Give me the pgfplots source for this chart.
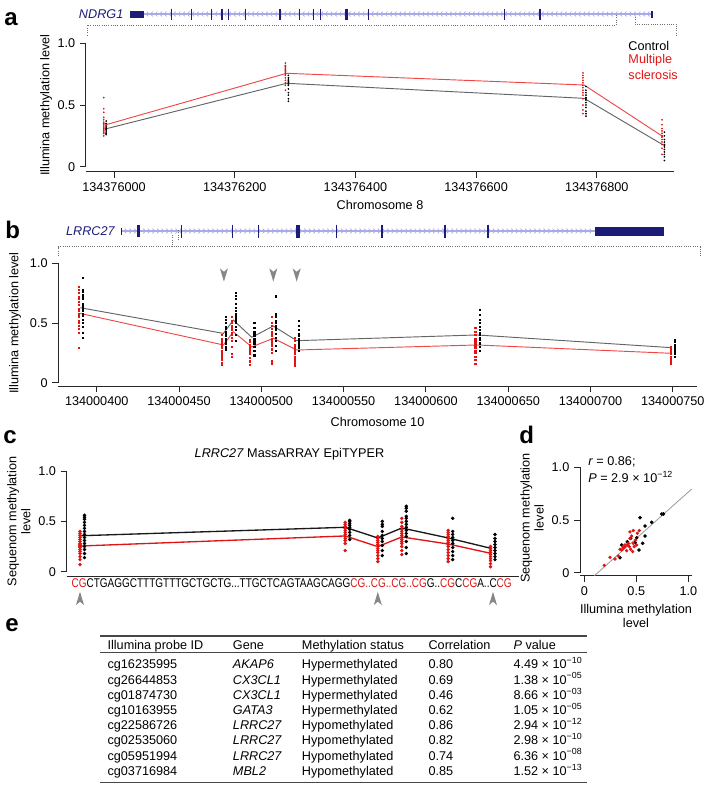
\documentclass[border=0pt]{standalone}
\usepackage{fontspec}
\setmainfont{Liberation Sans}
\usepackage{graphicx}
\usepackage{pgfplots}
\pgfplotsset{compat=1.18}
\definecolor{navy}{RGB}{28,28,120}
\definecolor{lav}{RGB}{170,170,228}
\definecolor{dotgray}{RGB}{110,110,110}
\definecolor{msred}{RGB}{225,20,20}
\definecolor{lred}{RGB}{240,70,70}
\definecolor{lgray}{RGB}{100,100,100}
\definecolor{argray}{RGB}{135,135,135}
\definecolor{rulegray}{RGB}{70,70,70}
\newcommand\fs{\fontsize{9.5}{10.5}\selectfont}
\newcommand\pl{\fontsize{18}{20}\selectfont\bfseries}
\newcommand\trow[6]{%
  \node[anchor=base west,font=\fs,inner sep=0pt] at (107.3,#1) {#2};
  \node[anchor=base west,font=\fs\itshape,inner sep=0pt] at (232.7,#1) {#3};
  \node[anchor=base west,font=\fs,inner sep=0pt] at (301.7,#1) {#4};
  \node[anchor=base west,font=\fs,inner sep=0pt] at (428.3,#1) {#5};
  \node[anchor=base west,font=\fs,inner sep=0pt] at (513.3,#1) {#6};}
\tikzset{dots/.style={dotgray,line width=0.6pt,dash pattern=on 0.6pt off 1.1pt}}
\pgfplotsset{
  rstyle/.style={
    scale only axis, clip=false, anchor=south west,
    axis lines=left, axis line style={-, line width=0.75pt, black!85},
    y axis line style={draw=none},
    tick align=outside, major tick length=4.5pt,
    tick style={black!85, line width=0.7pt},
    tick label style={font=\fs},
    ytick={0,0.5,1}, yticklabels={0,0.5,1.0},
  }
}
\begin{document}
\begin{tikzpicture}
\begin{scope}[x=0.75pt,y=-0.75pt]
\useasboundingbox (0,0) rectangle (714,789);
% panel labels
\node[anchor=base west,font=\pl,inner sep=0pt] at (4,25) {a};
\node[anchor=base west,font=\pl,inner sep=0pt] at (5,238) {b};
\node[anchor=base west,font=\pl,inner sep=0pt] at (3,443) {c};
\node[anchor=base west,font=\pl,inner sep=0pt] at (519,443) {d};
\node[anchor=base west,font=\pl,inner sep=0pt] at (5,631) {e};
% gene track a (NDRG1)
\node[anchor=east,font=\fs\itshape,text=navy,inner sep=0pt] at (123.6,14) {NDRG1};
\draw[lav,line width=0.9pt] (144,14)--(652,14);
\foreach \x in {147,151.6,...,649}{\draw[lav,line width=0.5pt] (\x+1.2,11.6)--(\x-1.2,14)--(\x+1.2,16.4);}
\fill[navy] (129.5,10.5) rectangle (144,17.5);
\foreach \x in {171.6,191.3,211.4,222,228.8,245.8,280,299.8,313.5,320.4,368.4,504.8,540}{\draw[navy,line width=1pt] (\x,8.5)--(\x,19.5);}
\draw[navy,line width=1.6pt] (346.5,8.5)--(346.5,19.5);
\draw[navy,line width=1pt] (652,10.5)--(652,17.5);
\draw[dots] (616,15)--(616,25)--(87,25)--(87,35);
\draw[dots] (635,17)--(635,24)--(676,24)--(676,35);
% gene track b (LRRC27)
\node[anchor=east,font=\fs\itshape,text=navy,inner sep=0pt] at (115,231) {LRRC27};
\draw[lav,line width=0.9pt] (121.7,231)--(595,231);
\foreach \x in {126,130.6,...,592}{\draw[lav,line width=0.5pt] (\x-1.2,228.6)--(\x+1.2,231)--(\x-1.2,233.4);}
\draw[navy,line width=1pt] (121.7,227.5)--(121.7,234.5);
\fill[navy] (136.5,225) rectangle (139.5,237);
\fill[navy] (296,224.5) rectangle (300,237.5);
\foreach \x in {181.7,232.3,258.3,336.7,382,445,488}{\draw[navy,line width=1pt] (\x,224.5)--(\x,237.5);}
\fill[navy] (595,226.5) rectangle (664,235.5);
\draw[dots] (58.3,256)--(58.3,246.7)--(700,246.7)--(700,257);
\draw[dots] (172.5,235)--(172.5,246.7);
\draw[dots] (178.5,230)--(178.5,240);
% table e
\draw[rulegray,line width=0.9pt] (100,636)--(587,636);
\draw[rulegray,line width=0.8pt] (100,652.7)--(587,652.7);
\draw[rulegray,line width=0.9pt] (100,782.7)--(587,782.7);
\node[anchor=base west,font=\fs,inner sep=0pt] at (107.3,649.3) {Illumina probe ID};
\node[anchor=base west,font=\fs,inner sep=0pt] at (232.7,649.3) {Gene};
\node[anchor=base west,font=\fs,inner sep=0pt] at (301.7,649.3) {Methylation status};
\node[anchor=base west,font=\fs,inner sep=0pt] at (428.3,649.3) {Correlation};
\node[anchor=base west,font=\fs,inner sep=0pt] at (513.3,649.3) {\textit{P} value};
\trow{668.8}{cg16235995}{AKAP6}{Hypermethylated}{0.80}{4.49 × 10\textsuperscript{−10}}
\trow{684.0}{cg26644853}{CX3CL1}{Hypermethylated}{0.69}{1.38 × 10\textsuperscript{−05}}
\trow{699.2}{cg01874730}{CX3CL1}{Hypermethylated}{0.46}{8.66 × 10\textsuperscript{−03}}
\trow{714.4}{cg10163955}{GATA3}{Hypermethylated}{0.62}{1.05 × 10\textsuperscript{−05}}
\trow{729.6}{cg22586726}{LRRC27}{Hypomethylated}{0.86}{2.94 × 10\textsuperscript{−12}}
\trow{744.8}{cg02535060}{LRRC27}{Hypomethylated}{0.82}{2.98 × 10\textsuperscript{−10}}
\trow{760.0}{cg05951994}{LRRC27}{Hypomethylated}{0.74}{6.36 × 10\textsuperscript{−08}}
\trow{775.2}{cg03716984}{MBL2}{Hypomethylated}{0.85}{1.52 × 10\textsuperscript{−13}}
\end{scope}

% ---------------- panel a ----------------
\begin{axis}[rstyle, at={(64.5pt,-128.775pt)}, width=441pt, height=96.3pt,
  xmin=-46.4, xmax=927.9, ymin=-0.0405, ymax=1,
  xtick={0,200,400,600,800},
  xticklabels={134376000,134376200,134376400,134376600,134376800}]
\draw[line width=0.75pt, black!85] (axis cs:-46.4,0) -- (axis cs:-46.4,1);
\addplot[only marks, mark=*, mark size=0.42pt, msred] coordinates {
(-17,0.25)(-17,0.27)(-17,0.28)(-17,0.29)(-17,0.30)(-17,0.31)(-17,0.32)(-17,0.33)(-17,0.34)(-17,0.35)(-17,0.36)(-17,0.38)(-17,0.40)(-17,0.44)(-17,0.47)(-17,0.56)
(284,0.62)(284,0.66)(284,0.68)(284,0.70)(284,0.72)(284,0.74)(284,0.75)(284,0.76)(284,0.77)(284,0.78)(284,0.79)(284,0.80)(284,0.81)(284,0.82)(284,0.84)
(777,0.43)(777,0.46)(777,0.50)(777,0.55)(777,0.58)(777,0.60)(777,0.62)(777,0.64)(777,0.66)(777,0.68)(777,0.70)(777,0.72)(777,0.74)(777,0.76)
(908,0.10)(908,0.15)(908,0.18)(908,0.20)(908,0.22)(908,0.24)(908,0.25)(908,0.27)(908,0.29)(908,0.31)(908,0.34)(908,0.38)};
\addplot[only marks, mark=*, mark size=0.42pt, black] coordinates {
(-13,0.26)(-13,0.27)(-13,0.28)(-13,0.29)(-13,0.30)(-13,0.31)(-13,0.32)(-13,0.33)(-13,0.35)(-13,0.37)
(289,0.53)(289,0.55)(289,0.58)(289,0.60)(289,0.63)(289,0.66)(289,0.67)(289,0.68)(289,0.69)(289,0.70)(289,0.71)(289,0.72)(289,0.74)
(782,0.41)(782,0.43)(782,0.45)(782,0.48)(782,0.50)(782,0.52)(782,0.54)(782,0.55)(782,0.56)(782,0.58)(782,0.60)(782,0.62)(782,0.65)
(912,0.05)(912,0.08)(912,0.10)(912,0.12)(912,0.14)(912,0.16)(912,0.17)(912,0.18)(912,0.20)(912,0.22)(912,0.25)(912,0.28)};
\addplot[lgray, line width=0.7pt, mark=none] coordinates {(-15,0.305)(286,0.676)(779,0.554)(910,0.176)};
\addplot[lred, line width=0.7pt, mark=none] coordinates {(-15,0.338)(286,0.757)(779,0.662)(910,0.243)};
\node[anchor=west,font=\fs,inner sep=0pt] at (axis cs:852,0.98) {Control};
\node[anchor=west,font=\fs,inner sep=0pt,text=msred] at (axis cs:852,0.859) {Multiple};
\node[anchor=west,font=\fs,inner sep=0pt,text=msred] at (axis cs:852,0.743) {sclerosis};
\node[font=\fs] at (axis cs:440.8,-0.31) {Chromosome 8};
\node[font=\fs,rotate=90] at (axis cs:-112.7,0.5) {Illumina methylation level};
\end{axis}

% ---------------- panel b ----------------
\begin{axis}[rstyle, at={(43.725pt,-289.5pt)}, width=478.8pt, height=92.025pt,
  xmin=-23.33, xmax=364.52, ymin=-0.0276, ymax=1,
  xtick={0,50,100,150,200,250,300,350},
  xticklabels={134000400,134000450,134000500,134000550,134000600,134000650,134000700,134000750}]
\draw[line width=0.75pt, black!85] (axis cs:-23.33,0) -- (axis cs:-23.33,1);
\addplot[only marks, mark=square*, mark size=0.42pt, msred] coordinates {
(-11,0.29)(-11,0.42)(-11,0.45)(-11,0.48)(-11,0.50)(-11,0.52)(-11,0.55)(-11,0.57)(-11,0.58)(-11,0.60)(-11,0.62)(-11,0.65)(-11,0.68)(-11,0.70)(-11,0.72)(-11,0.75)(-11,0.78)(-11,0.80)
(76,0.15)(76,0.17)(76,0.19)(76,0.21)(76,0.23)(76,0.25)(76,0.27)(76,0.29)(76,0.31)(76,0.33)(76,0.35)(76,0.37)(76,0.40)
(82,0.22)(82,0.24)(82,0.30)(82,0.35)(82,0.38)(82,0.40)(82,0.42)(82,0.44)(82,0.46)(82,0.48)(82,0.50)(82,0.52)(82,0.55)
(93.2,0.15)(93.2,0.18)(93.2,0.21)(93.2,0.24)(93.2,0.26)(93.2,0.28)(93.2,0.30)(93.2,0.32)(93.2,0.34)(93.2,0.36)
(106.3,0.16)(106.3,0.18)(106.3,0.25)(106.3,0.28)(106.3,0.31)(106.3,0.33)(106.3,0.35)(106.3,0.37)(106.3,0.39)(106.3,0.41)(106.3,0.43)(106.3,0.45)(106.3,0.48)(106.3,0.50)(106.3,0.55)
(120.5,0.14)(120.5,0.16)(120.5,0.18)(120.5,0.20)(120.5,0.22)(120.5,0.24)(120.5,0.26)(120.5,0.28)(120.5,0.30)(120.5,0.32)(120.5,0.35)(120.5,0.38)
(230,0.16)(230,0.19)(230,0.22)(230,0.25)(230,0.27)(230,0.29)(230,0.31)(230,0.33)(230,0.35)(230,0.37)(230,0.40)(230,0.43)(230,0.46)
(348.6,0.16)(348.6,0.18)(348.6,0.20)(348.6,0.22)(348.6,0.24)(348.6,0.26)(348.6,0.28)(348.6,0.30)};
\addplot[only marks, mark=square*, mark size=0.42pt, black] coordinates {
(-8.5,0.38)(-8.5,0.42)(-8.5,0.47)(-8.5,0.50)(-8.5,0.53)(-8.5,0.56)(-8.5,0.58)(-8.5,0.60)(-8.5,0.62)(-8.5,0.64)(-8.5,0.66)(-8.5,0.70)(-8.5,0.72)(-8.5,0.74)(-8.5,0.76)(-8.5,0.78)(-8.5,0.88)
(78.5,0.28)(78.5,0.30)(78.5,0.33)(78.5,0.35)(78.5,0.37)(78.5,0.39)(78.5,0.41)(78.5,0.43)(78.5,0.45)(78.5,0.47)(78.5,0.50)(78.5,0.53)(78.5,0.55)
(84.5,0.35)(84.5,0.40)(84.5,0.44)(84.5,0.47)(84.5,0.50)(84.5,0.52)(84.5,0.54)(84.5,0.56)(84.5,0.58)(84.5,0.60)(84.5,0.63)(84.5,0.66)(84.5,0.70)(84.5,0.73)(84.5,0.75)
(95.7,0.23)(95.7,0.27)(95.7,0.30)(95.7,0.33)(95.7,0.35)(95.7,0.37)(95.7,0.39)(95.7,0.41)(95.7,0.43)(95.7,0.46)(95.7,0.50)
(108.8,0.27)(108.8,0.31)(108.8,0.35)(108.8,0.38)(108.8,0.41)(108.8,0.44)(108.8,0.46)(108.8,0.48)(108.8,0.50)(108.8,0.52)(108.8,0.55)(108.8,0.57)(108.8,0.58)(108.8,0.72)(108.8,0.73)
(123,0.27)(123,0.29)(123,0.31)(123,0.33)(123,0.35)(123,0.37)(123,0.39)(123,0.41)(123,0.44)(123,0.48)(123,0.52)
(232.5,0.27)(232.5,0.30)(232.5,0.33)(232.5,0.36)(232.5,0.38)(232.5,0.40)(232.5,0.42)(232.5,0.44)(232.5,0.47)(232.5,0.50)(232.5,0.53)(232.5,0.57)(232.5,0.61)
(351.1,0.22)(351.1,0.24)(351.1,0.26)(351.1,0.28)(351.1,0.30)(351.1,0.32)(351.1,0.34)(351.1,0.36)};
\addplot[lgray, line width=0.7pt, mark=none] coordinates {(-10,0.628)(77,0.413)(83,0.525)(94.2,0.38)(107.3,0.475)(121.5,0.352)(231,0.40)(349.6,0.293)};
\addplot[lred, line width=0.7pt, mark=none] coordinates {(-10,0.58)(77,0.316)(83,0.427)(94.2,0.30)(107.3,0.372)(121.5,0.274)(231,0.316)(349.6,0.246)};
\pgfplotsinvokeforeach{77.3,107.3,121.5}{
  \fill[argray] (axis cs:#1,0.846) -- ++(-3pt,10pt) -- ++(3pt,-2.6pt) -- ++(3pt,2.6pt) -- cycle;}
\node[font=\fs] at (axis cs:170.6,-0.329) {Chromosome 10};
\node[font=\fs,rotate=90] at (axis cs:-49.6,0.5) {Illumina methylation level};
\end{axis}

% ---------------- panel c ----------------
\begin{axis}[rstyle, at={(50.025pt,-432.525pt)}, width=339.45pt, height=79.275pt,
  xmin=66.7, xmax=519.3, ymin=-0.0497, ymax=1, xtick=\empty]
\draw[line width=0.75pt, black!85] (axis cs:66.7,0) -- (axis cs:66.7,1);
\addplot[only marks, mark=*, mark size=1.1pt, black] coordinates {
(84.5,0.14)(84.5,0.18)(84.5,0.22)(84.5,0.25)(84.5,0.28)(84.5,0.31)(84.5,0.34)(84.5,0.37)(84.5,0.40)(84.5,0.43)(84.5,0.46)(84.5,0.49)(84.5,0.52)(84.5,0.54)(84.5,0.56)
(349.7,0.32)(349.7,0.36)(349.7,0.39)(349.7,0.42)(349.7,0.44)(349.7,0.46)(349.7,0.48)(349.7,0.50)(349.7,0.51)
(382.3,0.16)(382.3,0.21)(382.3,0.26)(382.3,0.30)(382.3,0.33)(382.3,0.36)(382.3,0.40)(382.3,0.45)(382.3,0.47)(382.3,0.50)
(406.3,0.18)(406.3,0.24)(406.3,0.30)(406.3,0.35)(406.3,0.38)(406.3,0.41)(406.3,0.44)(406.3,0.47)(406.3,0.50)(406.3,0.53)(406.3,0.55)(406.3,0.60)(406.3,0.63)(406.3,0.65)
(452.7,0.12)(452.7,0.16)(452.7,0.20)(452.7,0.24)(452.7,0.28)(452.7,0.31)(452.7,0.34)(452.7,0.37)(452.7,0.40)(452.7,0.53)
(495,0.12)(495,0.15)(495,0.18)(495,0.21)(495,0.24)(495,0.27)(495,0.30)(495,0.33)(495,0.37)};
\addplot[only marks, mark=*, mark size=1.1pt, msred] coordinates {
(80,0.07)(80,0.12)(80,0.15)(80,0.18)(80,0.20)(80,0.22)(80,0.24)(80,0.25)(80,0.26)(80,0.27)(80,0.28)(80,0.30)(80,0.32)(80,0.34)(80,0.36)(80,0.38)(80,0.40)
(345.2,0.21)(345.2,0.28)(345.2,0.31)(345.2,0.33)(345.2,0.35)(345.2,0.37)(345.2,0.39)(345.2,0.41)(345.2,0.43)(345.2,0.45)(345.2,0.47)(345.2,0.49)
(377.8,0.10)(377.8,0.13)(377.8,0.16)(377.8,0.19)(377.8,0.21)(377.8,0.23)(377.8,0.25)(377.8,0.27)(377.8,0.29)(377.8,0.31)(377.8,0.33)(377.8,0.35)
(401.8,0.17)(401.8,0.21)(401.8,0.25)(401.8,0.28)(401.8,0.30)(401.8,0.32)(401.8,0.34)(401.8,0.36)(401.8,0.38)(401.8,0.40)(401.8,0.42)(401.8,0.45)(401.8,0.49)(401.8,0.53)
(448.2,0.10)(448.2,0.13)(448.2,0.16)(448.2,0.19)(448.2,0.22)(448.2,0.25)(448.2,0.27)(448.2,0.29)(448.2,0.31)(448.2,0.33)(448.2,0.35)(448.2,0.37)(448.2,0.39)(448.2,0.41)
(490.5,0.05)(490.5,0.08)(490.5,0.11)(490.5,0.13)(490.5,0.15)(490.5,0.17)(490.5,0.19)(490.5,0.21)(490.5,0.23)(490.5,0.25)};
\addplot[black!90, line width=1pt, mark=none] coordinates {(80,0.357)(345.2,0.441)(377.8,0.335)(401.8,0.434)(448.2,0.335)(491,0.232)};
\addplot[msred, line width=1pt, mark=none] coordinates {(80,0.255)(345.2,0.355)(377.8,0.249)(401.8,0.345)(448.2,0.275)(491,0.182)};
\node[font=\fs] at (axis cs:289.5,1.166) {\textit{LRRC27} MassARRAY EpiTYPER};
\node[font=\fs,rotate=90,align=center] at (axis cs:18.9,0.5) {Sequenom methylation\\level};
\node[font=\fs,inner sep=0pt] at (axis cs:291.7,-0.115) {\resizebox{330pt}{\height}{\textcolor{msred}{CG}CTGAGGCTTTGTTTGCTGCTG...TTGCTCAGTAAGCAGG\textcolor{msred}{CG..CG..CG..CG}G..\textcolor{msred}{CG}C\textcolor{msred}{CG}A..C\textcolor{msred}{CG}}};
\pgfplotsinvokeforeach{80,377.8,493}{
  \fill[argray] (axis cs:#1,-0.199) -- ++(-3pt,-10pt) -- ++(3pt,2.6pt) -- ++(3pt,-2.6pt) -- cycle;}
\end{axis}

% ---------------- panel d ----------------
\begin{axis}[rstyle, at={(435pt,-431.775pt)}, width=83.775pt, height=81.3pt,
  xmin=-0.0413, xmax=1.0327, ymin=-0.0285, ymax=1,
  xtick={0,0.5,1}, xticklabels={0,0.5,1.0}]
\draw[line width=0.75pt, black!85] (axis cs:-0.0413,0) -- (axis cs:-0.0413,1);
\addplot[gray!80, line width=0.6pt, mark=none] coordinates {(0.097,-0.0285)(1.033,0.794)};
\addplot[only marks, mark=*, mark size=1.15pt, black] coordinates {
(0.536,0.522)(0.648,0.478)(0.584,0.443)(0.744,0.557)(0.76,0.557)(0.584,0.348)(0.504,0.332)(0.561,0.279)(0.526,0.215)(0.446,0.326)(0.36,0.263)(0.343,0.142)(0.414,0.294)(0.488,0.285)};
\addplot[only marks, mark=*, mark size=1.05pt, msred] coordinates {
(0.192,0.07)(0.247,0.146)(0.295,0.13)(0.327,0.158)(0.343,0.222)(0.375,0.231)(0.391,0.247)(0.413,0.263)(0.433,0.247)(0.446,0.222)(0.465,0.2)(0.407,0.209)(0.471,0.279)(0.494,0.311)(0.439,0.326)(0.455,0.348)(0.51,0.374)(0.529,0.4)(0.471,0.4)(0.439,0.387)(0.391,0.263)(0.369,0.247)(0.423,0.279)(0.48,0.247)(0.503,0.263)(0.359,0.215)};
\node[anchor=west,font=\fs,inner sep=0pt] at (axis cs:0.036,1.053) {\textit{r} = 0.86;};
\node[anchor=west,font=\fs,inner sep=0pt] at (axis cs:0.036,0.911) {\textit{P} = 2.9 × 10\textsuperscript{−12}};
\node[font=\fs,rotate=90,align=center] at (axis cs:-0.503,0.519) {Sequenom methylation\\level};
\node[font=\fs,align=center] at (axis cs:0.497,-0.411) {Illumina methylation\\level};
\end{axis}
\end{tikzpicture}
\end{document}
